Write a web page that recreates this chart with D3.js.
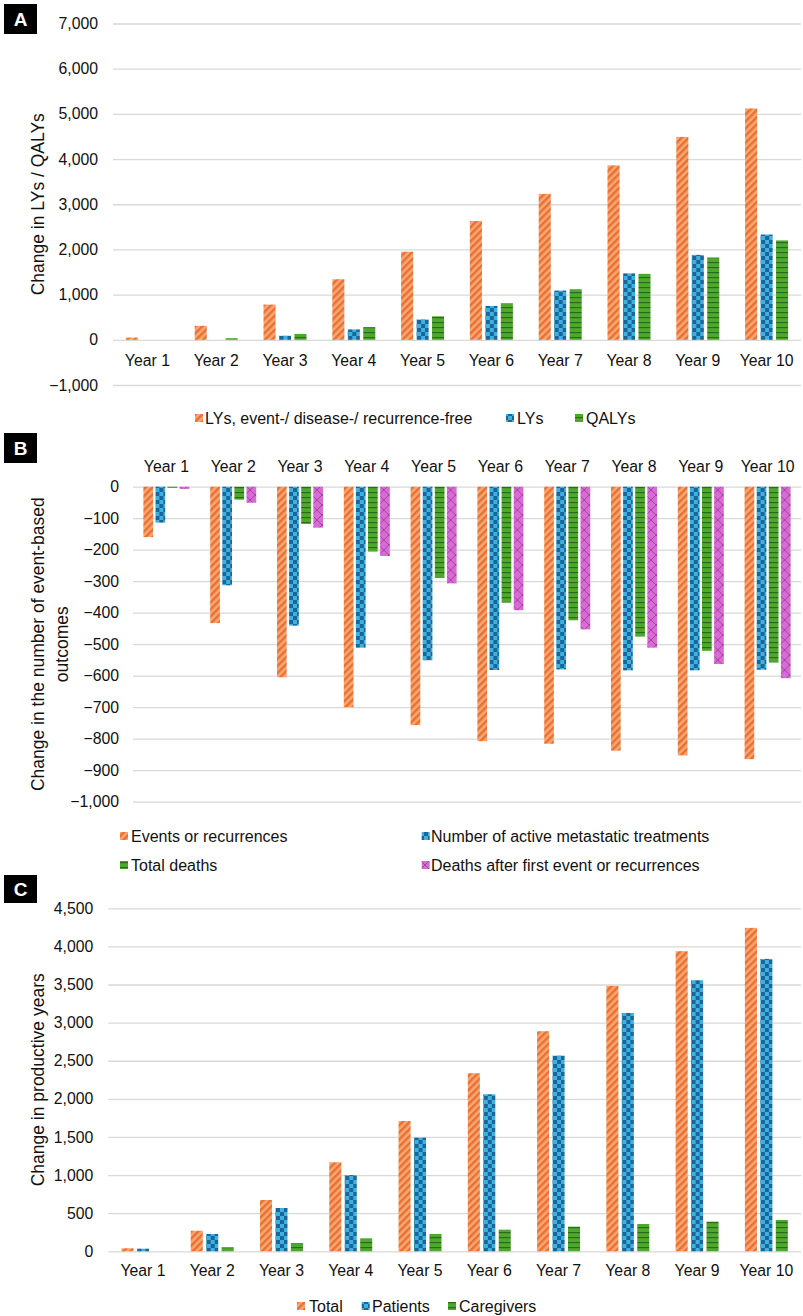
<!DOCTYPE html>
<html><head><meta charset="utf-8">
<script src="https://cdn.jsdelivr.net/npm/d3@7"></script>
<style>body{margin:0;background:#fff}svg{display:block;font-family:"Liberation Sans",Arial,sans-serif}</style>
</head><body><svg id="c" width="803" height="1316"></svg>
<script>
// ---------- DATA ----------
const years = ["Year 1","Year 2","Year 3","Year 4","Year 5","Year 6","Year 7","Year 8","Year 9","Year 10"];

// Panel A
const aSeries = ["LYs, event-/ disease-/ recurrence-free","LYs","QALYs"];
const aEventFree = [50,310,780,1340,1950,2630,3230,3860,4490,5120];
const aLYs       = [0,0,90,230,450,750,1090,1470,1880,2330];
const aQALYs     = [0,35,130,280,520,810,1120,1460,1820,2200];
const aTicks = [-1000,0,1000,2000,3000,4000,5000,6000,7000];

// Panel B
const bSeries = ["Events or recurrences","Number of active metastatic treatments","Total deaths","Deaths after first event or recurrences"];
const bEvents      = [-160,-433,-605,-700,-757,-808,-816,-838,-853,-865];
const bMetastatic  = [-114,-313,-441,-511,-551,-582,-580,-583,-583,-581];
const bTotalDeaths = [-3,-41,-118,-206,-289,-368,-424,-476,-521,-558];
const bDeathsAfter = [-7,-51,-130,-220,-307,-392,-453,-511,-563,-608];
const bTicks = [0,-100,-200,-300,-400,-500,-600,-700,-800,-900,-1000];

// Panel C
const cSeries = ["Total","Patients","Caregivers"];
const cTotal      = [40,270,673,1168,1710,2336,2887,3482,3937,4243];
const cPatients   = [34,227,568,1000,1491,2060,2567,3127,3556,3836];
const cCaregivers = [0,52,109,170,227,284,323,358,389,411];
const cTicks = [0,500,1000,1500,2000,2500,3000,3500,4000,4500];

// ---------- SETUP ----------
const svg = d3.select("#c");
const defs = svg.append("defs");
const TXT = "#111";
const GRID = "#d9d9d9";

// patterns
(function(){
  let p = defs.append("pattern").attr("id","pOrange").attr("patternUnits","userSpaceOnUse")
    .attr("width",5).attr("height",5).attr("patternTransform","rotate(45)");
  p.append("rect").attr("width",5).attr("height",5).attr("fill","#f4a778");
  p.append("rect").attr("width",2.4).attr("height",5).attr("fill","#ec6f2c");

  p = defs.append("pattern").attr("id","pBlue").attr("patternUnits","userSpaceOnUse")
    .attr("width",8).attr("height",8);
  p.append("rect").attr("width",8).attr("height",8).attr("fill","#3cb2e4");
  p.append("rect").attr("width",4).attr("height",4).attr("fill","#1c6594");
  p.append("rect").attr("x",4).attr("y",4).attr("width",4).attr("height",4).attr("fill","#1c6594");

  p = defs.append("pattern").attr("id","pGreen").attr("patternUnits","userSpaceOnUse")
    .attr("width",5).attr("height",5);
  p.append("rect").attr("width",5).attr("height",5).attr("fill","#4ea82d");
  p.append("rect").attr("y",2).attr("width",5).attr("height",1.2).attr("fill","#2a6b1a");

  p = defs.append("pattern").attr("id","pPink").attr("patternUnits","userSpaceOnUse")
    .attr("width",10).attr("height",10);
  p.append("rect").attr("width",10).attr("height",10).attr("fill","#d86cd4");
  p.append("path").attr("d","M0,0L10,10M10,0L0,10").attr("stroke","#a443a3").attr("stroke-width",1).attr("fill","none");
})();

function panelLetter(letter, y0, h){
  svg.append("rect").attr("x",4).attr("y",y0).attr("width",33).attr("height",h).attr("fill","#000");
  svg.append("text").attr("x",20.5).attr("y",y0+h/2).attr("text-anchor","middle")
    .attr("dominant-baseline","central").attr("fill","#fff").attr("font-weight","bold")
    .attr("font-size",19).text(letter);
}

function drawPanel(cfg){
  const g = svg.append("g");
  const y = d3.scaleLinear().domain(cfg.domain).range(cfg.yRange);
  const x0 = d3.scaleBand().domain(years).range(cfg.xRange).paddingInner(cfg.groupPad).paddingOuter(cfg.groupPad/2);
  const keys = cfg.series.map((s,i)=>i);
  const x1 = d3.scaleBand().domain(keys).range([0,x0.bandwidth()]).paddingInner(cfg.barPad).paddingOuter(0);

  // gridlines + tick labels
  const ax = g.append("g").attr("transform",`translate(${cfg.xRange[0]},0)`)
    .call(d3.axisLeft(y).tickValues(cfg.ticks).tickFormat(d3.format(","))
      .tickSize(-(cfg.xRange[1]-cfg.xRange[0])).tickPadding(cfg.tickPad));
  ax.select(".domain").remove();
  ax.selectAll("line").attr("stroke",GRID).attr("stroke-width",1.3);
  ax.selectAll("text").attr("font-size",15.8).attr("fill",TXT).attr("font-family","Liberation Sans, Arial, sans-serif");

  // bars
  const data = years.map((yr,i)=>({yr, vals: cfg.values.map(arr=>arr[i])}));
  const grp = g.selectAll(".grp").data(data).enter().append("g")
    .attr("transform",d=>`translate(${x0(d.yr)},0)`);
  grp.selectAll("rect").data(d=>d.vals.map((v,k)=>({v,k}))).enter().append("rect")
    .attr("x",d=>x1(d.k)).attr("width",x1.bandwidth())
    .attr("y",d=>Math.min(y(d.v),y(0))).attr("height",d=>Math.abs(y(d.v)-y(0)))
    .attr("fill",d=>`url(#${cfg.patterns[d.k]})`);

  // category labels
  const cx = g.append("g").attr("transform",`translate(0,${cfg.catY})`)
    .call(d3.axisBottom(x0).tickSize(0).tickPadding(0));
  cx.select(".domain").remove();
  cx.selectAll("text").attr("font-size",15.8).attr("fill",TXT).attr("dy",null)
    .attr("dominant-baseline","central").attr("font-family","Liberation Sans, Arial, sans-serif");

  // axis title
  const t = g.append("text").attr("transform",`translate(${cfg.titleX},${(cfg.yRange[0]+cfg.yRange[1])/2}) rotate(-90)`)
    .attr("text-anchor","middle").attr("font-size",17.5).attr("fill",TXT);
  cfg.title.forEach((line,i)=>{
    t.append("tspan").attr("x",0).attr("dy", i===0 ? `${-(cfg.title.length-1)*0.7+0.35}em` : "1.4em").text(line);
  });

  // legend
  cfg.legend.forEach((it,i)=>{
    g.append("rect").attr("x",it.sx).attr("y",it.y-4).attr("width",8).attr("height",8)
      .attr("fill",`url(#${cfg.patterns[i]})`);
    g.append("text").attr("x",it.tx).attr("y",it.y).attr("dominant-baseline","central")
      .attr("font-size",16).attr("fill",TXT).text(cfg.series[i]);
  });
}

// Panel A
panelLetter("A",4,30);
drawPanel({
  domain:[-1000,7000], yRange:[385,23.5], xRange:[113,801], groupPad:0.375, barPad:0.22,
  ticks:aTicks, tickPad:15, series:aSeries, values:[aEventFree,aLYs,aQALYs],
  patterns:["pOrange","pBlue","pGreen"], catY:360, titleX:38,
  title:["Change in LYs / QALYs"],
  legend:[{sx:195,tx:205,y:418},{sx:506,tx:517,y:418},{sx:575,tx:586,y:418}]
});

// Panel B
panelLetter("B",433,30);
drawPanel({
  domain:[-1000,0], yRange:[801.7,486.7], xRange:[133,801], groupPad:0.311, barPad:0.2,
  ticks:bTicks, tickPad:14, series:bSeries, values:[bEvents,bMetastatic,bTotalDeaths,bDeathsAfter],
  patterns:["pOrange","pBlue","pGreen","pPink"], catY:466.7, titleX:50,
  title:["Change in the number of event-based","outcomes"],
  legend:[{sx:120,tx:131,y:836},{sx:421.7,tx:431,y:836},{sx:120,tx:131,y:865},{sx:421.7,tx:431,y:865}]
});

// Panel C
panelLetter("C",875,28);
drawPanel({
  domain:[0,4500], yRange:[1251.3,908.3], xRange:[108.3,801], groupPad:0.38, barPad:0.22,
  ticks:cTicks, tickPad:15, series:cSeries, values:[cTotal,cPatients,cCaregivers],
  patterns:["pOrange","pBlue","pGreen"], catY:1270, titleX:38,
  title:["Change in productive years"],
  legend:[{sx:297,tx:309,y:1306},{sx:361.7,tx:372,y:1306},{sx:448,tx:459,y:1306}]
});
</script>
</body></html>
